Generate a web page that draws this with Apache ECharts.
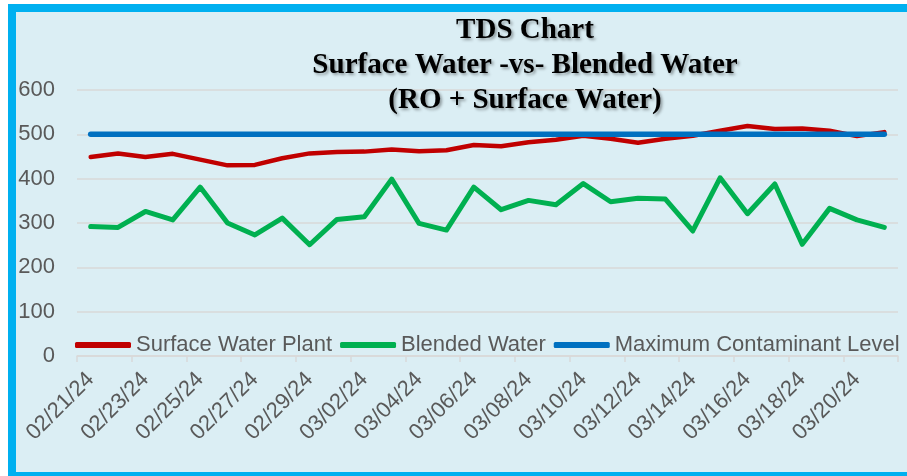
<!DOCTYPE html>
<html>
<head>
<meta charset="utf-8">
<script src="https://cdn.jsdelivr.net/npm/echarts@6/dist/echarts.min.js"></script>
<style>
html,body{margin:0;padding:0;background:#ffffff;}
#chart{width:907px;height:476px;}
</style>
</head>
<body>
<div id="chart"></div>
<script>
const categories = ['02/21/24','02/22/24','02/23/24','02/24/24','02/25/24','02/26/24','02/27/24','02/28/24','02/29/24','03/01/24',
  '03/02/24','03/03/24','03/04/24','03/05/24','03/06/24','03/07/24','03/08/24','03/09/24','03/10/24','03/11/24',
  '03/12/24','03/13/24','03/14/24','03/15/24','03/16/24','03/17/24','03/18/24','03/19/24','03/20/24','03/21/24'];
const surfaceWater = [449,457,449,456,443,430,431,446,457,460,461,466,462,464,476,473,482,488,497,490,481,490,497,508,519,512,513,508,496,505];
const blendedWater = [292,290,326,307,381,300,273,311,251,308,314,399,299,284,381,330,351,341,389,348,356,354,282,402,321,388,252,333,307,290];
const maxContaminant = [500,500,500,500,500,500,500,500,500,500,500,500,500,500,500,500,500,500,500,500,500,500,500,500,500,500,500,500,500,500];
const seriesNames = ['Surface Water Plant','Blended Water','Maximum Contaminant Level'];
const titleText = 'TDS Chart\nSurface Water -vs- Blended Water\n(RO + Surface Water)';

const chart = echarts.init(document.getElementById('chart'), null, {renderer:'canvas'});
const txt = '#595959';
const font = 'Liberation Sans';
function lineSeries(name, data, color, width){
  return {name:name, type:'line', data:data, symbol:'none', smooth:false,
    lineStyle:{color:color, width:width, cap:'round', join:'round'}, itemStyle:{color:color}};
}
chart.setOption({
  backgroundColor:'#ffffff',
  animation:false,
  graphic:[{type:'rect', z:-100, silent:true,
    shape:{x:12, y:8, width:1000, height:468},
    style:{fill:'#DBEEF4', stroke:'#00B0F0', lineWidth:8}}],
  title:{text:titleText, left:525, top:13, textAlign:'center', padding:0,
    textStyle:{fontFamily:'Liberation Serif', fontWeight:'bold', fontSize:29, lineHeight:35, color:'#000000',
      textShadowColor:'rgba(0,0,0,0.35)', textShadowBlur:3, textShadowOffsetX:2, textShadowOffsetY:2}},
  legend:{left:75, top:334, itemWidth:56, itemHeight:6, itemGap:8, icon:'roundRect', padding:0,
    data:seriesNames,
    textStyle:{fontFamily:font, fontSize:22, color:txt}},
  grid:{left:77, right:9, top:90, bottom:120, containLabel:false},
  xAxis:{type:'category', data:categories, boundaryGap:true,
    axisLine:{lineStyle:{color:'#D9D9D9', width:1.5}},
    axisTick:{show:true, interval:1, length:6, lineStyle:{color:'#D9D9D9', width:1.5}},
    axisLabel:{interval:1, rotate:45, margin:20, fontFamily:font, fontSize:22, color:txt}},
  yAxis:{type:'value', min:0, max:600, interval:100,
    axisLine:{show:false}, axisTick:{show:false},
    splitLine:{lineStyle:{color:'#D9D9D9', width:1.5}},
    axisLabel:{margin:22, fontFamily:font, fontSize:22, color:txt}},
  series:[
    lineSeries(seriesNames[0], surfaceWater, '#C00000', 4.5),
    lineSeries(seriesNames[1], blendedWater, '#00B050', 5),
    lineSeries(seriesNames[2], maxContaminant, '#0070C0', 5.5)
  ]
});
</script>
</body>
</html>
